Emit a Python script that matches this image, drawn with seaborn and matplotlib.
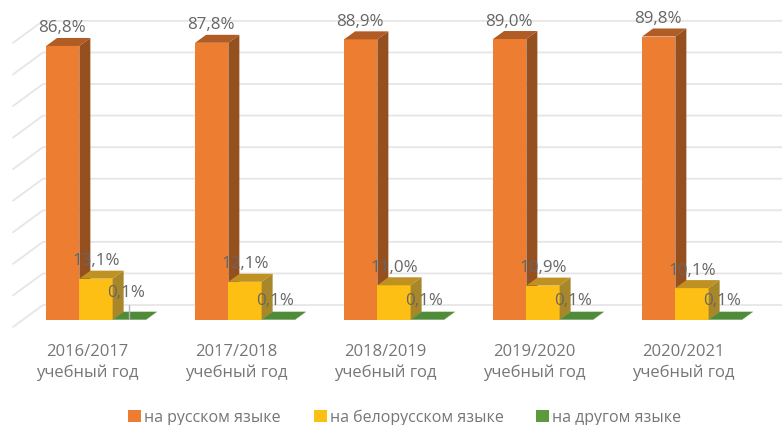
import pandas as pd
import matplotlib
matplotlib.use('Agg')
import matplotlib.pyplot as plt
import matplotlib.transforms as mtrans
from matplotlib.patches import Polygon
import seaborn as sns

years = ['2016/2017\nучебный год', '2017/2018\nучебный год', '2018/2019\nучебный год',
         '2019/2020\nучебный год', '2020/2021\nучебный год']
russian = [86.8, 87.8, 88.9, 89.0, 89.8]
belarusian = [13.1, 12.1, 11.0, 10.9, 10.1]
other = [0.1, 0.1, 0.1, 0.1, 0.1]
series_names = ['на русском языке', 'на белорусском языке', 'на другом языке']
grid_values = [0, 10, 20, 30, 40, 50, 60, 70, 80, 90]

front_colors = ['#ed7d31', '#fdbf13', '#5c9a3a']
top_colors = ['#b05c24', '#bf9022', '#4f8b38']
side_colors = ['#964f1f', '#a8872a', '#4f8b38']
text_color = '#767676'

df = pd.DataFrame({
    'year': years * 3,
    'share': russian + belarusian + other,
    'lang': [n for n in series_names for _ in years],
})

sns.set_theme(style='white')
plt.rcParams['font.family'] = ['Open Sans', 'DejaVu Sans']

W, H = 782, 425
fig = plt.figure(figsize=(W / 100, H / 100), dpi=100, facecolor='white')
ax = fig.add_axes([21.5 / W, (H - 320) / H, 745 / W, 320 / H])

sns.barplot(data=df, x='year', y='share', hue='lang', palette=front_colors, saturation=1,
            width=0.67, gap=0, ax=ax, legend=False, zorder=3)
ax.set_xlim(-0.5, 4.5)
ax.set_ylim(0, 320 / 3.157)
ax.set_xlabel('')
ax.set_ylabel('')
ax.set_yticks([])
sns.despine(ax=ax, left=True, bottom=True)
ax.patch.set_alpha(0)

# pixel sizes turned into data units for the fake 3D
ux = 149.0
uy = 3.157
dx, dy = 11 / ux, 8 / uy


def px_x(p):
    return (p - 21.5) / ux - 0.5


# back wall + slanted left wall
wall_lift = 15 / uy
for v in grid_values:
    y = v + wall_lift
    ax.plot([px_x(13), px_x(43), px_x(782)], [y - 22 / uy, y, y], color='#e6e6e6', lw=1.3,
            zorder=1, clip_on=False)

for i, cont in enumerate(ax.containers):
    for j, bar in enumerate(cont):
        z = 3 + i
        bar.set_zorder(z)
        bar.set_linewidth(0)
        x0, w, h = bar.get_x(), bar.get_width(), bar.get_height()
        ax.add_patch(Polygon([(x0, h), (x0 + w, h), (x0 + w + dx, h + dy), (x0 + dx, h + dy)],
                             fc=top_colors[i], ec='none', zorder=z))
        ax.add_patch(Polygon([(x0 + w, 0), (x0 + w + dx, dy), (x0 + w + dx, h + dy), (x0 + w, h)],
                             fc=side_colors[i], ec='none', zorder=z))
        lift = 17.5
        off = 0
        if i == 2:
            off = -3
            lift = 18.5
        if i == 0:
            off = -1
        # first green label was pulled up in the source, with a small leader
        if i == 2 and j == 0:
            lift = 26.5
            ax.plot([x0 + 16 / ux] * 2, [0.2, 15 / uy], color='#b5b5b5', lw=1, zorder=9)
        ax.annotate(f'{h:.1f}%'.replace('.', ','), (x0 + w / 2, h), xytext=(off * 0.72, lift * 0.72),
                    textcoords='offset points', ha='center', va='center', fontsize=12.2,
                    color='#666666', zorder=10)

ax.tick_params(axis='x', length=0, pad=17, labelsize=12, labelcolor=text_color)
shift = mtrans.ScaledTranslation(-9 / 100, 0, fig.dpi_scale_trans)
for lab in ax.get_xticklabels():
    lab.set_transform(lab.get_transform() + shift)
    lab.set_linespacing(1.4)

handles = [plt.Rectangle((0, 0), 1, 1, fc=c, ec='none') for c in front_colors]
fig.legend(handles, series_names, loc='center', bbox_to_anchor=(405 / W, 1 - 417.5 / H), ncol=3,
           frameon=False, fontsize=11.5, labelcolor=text_color, handlelength=0.8, handleheight=0.8,
           handletextpad=0.2, columnspacing=2.05, borderaxespad=0, borderpad=0)

fig.savefig('out.png', dpi=100)
plt.close(fig)
